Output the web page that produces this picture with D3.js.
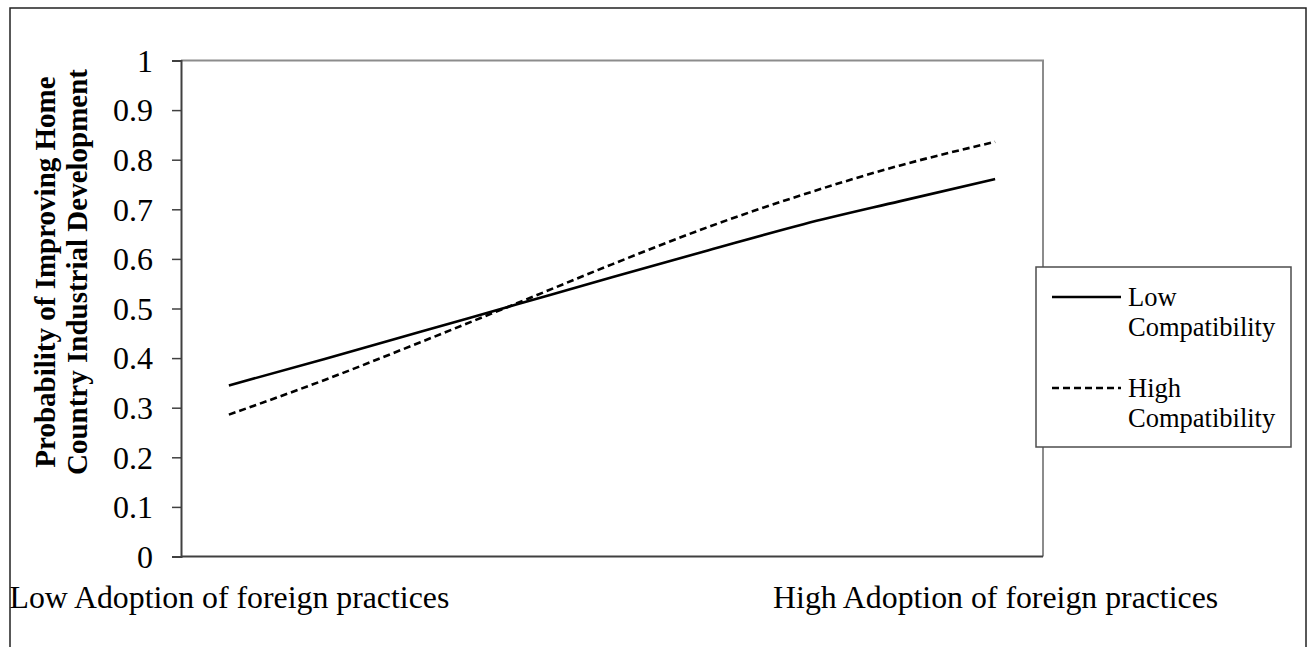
<!DOCTYPE html>
<html><head><meta charset="utf-8">
<script src="https://cdn.jsdelivr.net/npm/d3@7"></script>
<style>body{margin:0;background:#fff}svg{display:block}text{font-family:"Liberation Serif","Times New Roman",serif;fill:#000}</style>
</head><body>
<script>
const categories = ["Low Adoption of foreign practices","","","","","","","","High Adoption of foreign practices"];
const lowCompat  = [0.345,0.398,0.453,0.508,0.563,0.617,0.670,0.716,0.761];
const highCompat = [0.286,0.356,0.432,0.510,0.589,0.664,0.730,0.788,0.836];
const yTicks = [0,0.1,0.2,0.3,0.4,0.5,0.6,0.7,0.8,0.9,1];
const seriesNames = ["Low Compatibility","High Compatibility"];
const yTitle = ["Probability of Improving Home","Country Industrial Development"];

const W=1311,H=647;
const svg=d3.select("body").append("svg").attr("width",W).attr("height",H);
svg.append("rect").attr("x",10).attr("y",8).attr("width",1296).attr("height",700)
  .attr("fill","#fff").attr("stroke","#222").attr("stroke-width",1.5);

const L=181,R=1043,T=60.5,B=556.5;
const x=d3.scalePoint().domain(d3.range(categories.length)).range([L,R]).padding(0.5);
const y=d3.scaleLinear().domain([0,1]).range([B,T]);

// plot area frame (top/right gray)
svg.append("path").attr("d",`M${L},${T}H${R}V${B}`).attr("fill","none").attr("stroke","#8c8c8c").attr("stroke-width",2);

// y axis
const ya=svg.append("g").attr("transform",`translate(${L},0)`)
  .call(d3.axisLeft(y).tickValues(yTicks).tickSize(9).tickPadding(19).tickFormat(d=>d3.format("")(+d.toFixed(1))));
ya.select(".domain").attr("stroke","#404040").attr("stroke-width",2);
ya.selectAll(".tick line").attr("stroke","#404040").attr("stroke-width",1.5);
ya.selectAll(".tick text").attr("font-size",32).attr("font-family","Liberation Serif").attr("fill","#000").attr("dy","0.34em");

// x axis
const xa=svg.append("g").attr("transform",`translate(0,${B})`)
  .call(d3.axisBottom(x).tickSize(0).tickPadding(0).tickFormat(i=>categories[i]));
xa.select(".domain").attr("stroke","#404040").attr("stroke-width",2).attr("d",`M${L},0H${R}`);
xa.selectAll(".tick text").attr("font-size",31.8).attr("font-family","Liberation Serif").attr("fill","#000").attr("dy",0).attr("y",51);

// y title
const yt=svg.append("text").attr("transform","translate(0,272) rotate(-90)").attr("text-anchor","middle")
  .attr("font-weight","bold").attr("font-size",29);
yt.append("tspan").attr("x",0).attr("y",55).text(yTitle[0]);
yt.append("tspan").attr("x",0).attr("y",87).text(yTitle[1]);

// lines
const line=d3.line().x((d,i)=>x(i)).y(d=>y(d)).curve(d3.curveMonotoneX);
svg.append("path").datum(lowCompat).attr("d",line).attr("fill","none").attr("stroke","#000").attr("stroke-width",2.6);
svg.append("path").datum(highCompat).attr("d",line).attr("fill","none").attr("stroke","#000").attr("stroke-width",2.6).attr("stroke-dasharray","7,4");

// legend
const lg=svg.append("g");
lg.append("rect").attr("x",1036).attr("y",267).attr("width",255).attr("height",180).attr("fill","#fff").attr("stroke","#4d4d4d").attr("stroke-width",1.5);
const items=[{name:seriesNames[0],dash:null,ly:297},{name:seriesNames[1],dash:"7,4",ly:388}];
items.forEach(it=>{
  lg.append("line").attr("x1",1052).attr("x2",1121).attr("y1",it.ly).attr("y2",it.ly)
    .attr("stroke","#000").attr("stroke-width",2.6).attr("stroke-dasharray",it.dash);
  const words=it.name.split(" ");
  const t=lg.append("text").attr("font-size",26.5);
  t.append("tspan").attr("x",1128).attr("y",it.ly+9).text(words[0]);
  t.append("tspan").attr("x",1128).attr("y",it.ly+39).text(words[1]);
});
</script>
</body></html>
